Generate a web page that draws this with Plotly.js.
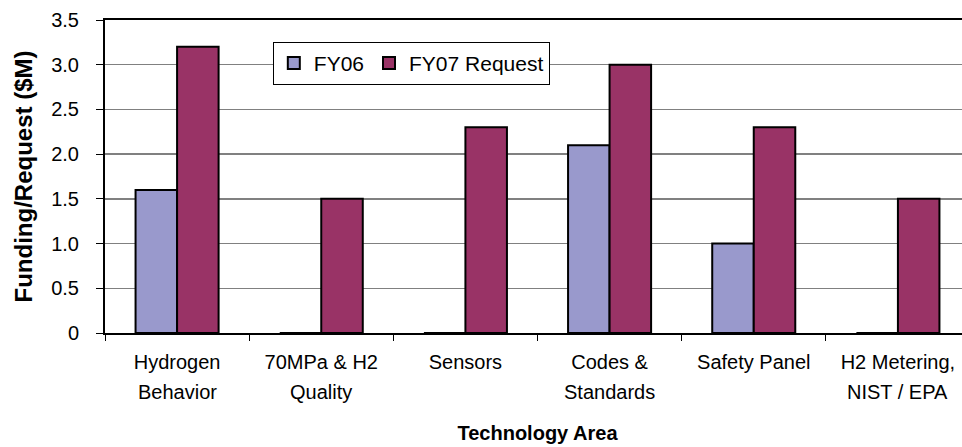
<!DOCTYPE html>
<html>
<head>
<meta charset="utf-8">
<script src="https://cdn.plot.ly/plotly-3.0.1.min.js"></script>
<style>
html,body{margin:0;padding:0;overflow:hidden;background:#fff;}
#chart{width:976px;height:447px;}
</style>
</head>
<body>
<div id="chart"></div>
<script>
var categories = ["Hydrogen Behavior", "70MPa & H2 Quality", "Sensors", "Codes & Standards", "Safety Panel", "H2 Metering, NIST / EPA"];
var labelLine1 = ["Hydrogen", "70MPa & H2", "Sensors", "Codes &", "Safety Panel", "H2 Metering,"];
var labelLine2 = ["Behavior", "Quality", "", "Standards", "", "NIST / EPA"];
var fy06 = [1.6, 0, 0, 2.1, 1.0, 0];
var fy07 = [3.2, 1.5, 2.3, 3.0, 2.3, 1.5];
var seriesNames = ["FY06", "FY07 Request"];
var yTickVals = [0, 0.5, 1.0, 1.5, 2.0, 2.5, 3.0, 3.5];
var yTickText = ["0", "0.5", "1.0", "1.5", "2.0", "2.5", "3.0", "3.5"];

var font = "Arial, 'Liberation Sans', Helvetica, sans-serif";

var traces = [
  {type: "bar", name: seriesNames[0], x: categories, y: fy06,
   marker: {color: "#9999CC", line: {color: "#000", width: 2}}},
  {type: "bar", name: seriesNames[1], x: categories, y: fy07,
   marker: {color: "#993366", line: {color: "#000", width: 2}}}
];

var annotations = [];
for (var i = 0; i < categories.length; i++) {
  if (labelLine2[i]) {
    annotations.push({x: categories[i], xref: "x", y: 0, yref: "paper",
      text: labelLine2[i], showarrow: false, xanchor: "center", yanchor: "middle",
      yshift: -59, font: {size: 20, family: font, color: "#000"}});
  }
}

var layout = {
  width: 976, height: 447,
  margin: {l: 105, r: 6, t: 20, b: 114},
  paper_bgcolor: "#fff", plot_bgcolor: "#fff",
  barmode: "group", bargap: 0.424, bargroupgap: 0,
  font: {family: font, color: "#000", size: 20},
  showlegend: true,
  legend: {orientation: "h", x: 0.194, y: 0.93, xanchor: "left", yanchor: "top",
           bgcolor: "#fff", bordercolor: "#000", borderwidth: 1,
           font: {size: 21, family: font}, itemclick: false},
  annotations: annotations,
  xaxis: {type: "category", showline: true, linecolor: "#000", linewidth: 2, mirror: true,
          tickvals: categories, ticktext: labelLine1,
          ticks: "outside", tickson: "boundaries", ticklen: 6, tickwidth: 1, tickcolor: "#000",
          ticklabelstandoff: 10,
          tickfont: {size: 20, family: font}, showgrid: false, zeroline: false,
          title: {text: "<b>Technology Area</b>", font: {size: 20, family: font}, standoff: 54},
          automargin: false},
  yaxis: {range: [0, 3.5], tickvals: yTickVals, ticktext: yTickText,
          showline: true, linecolor: "#000", linewidth: 2, mirror: true,
          ticks: "outside", ticklen: 7, tickwidth: 1, tickcolor: "#000",
          ticklabelstandoff: 13,
          tickfont: {size: 20, family: font},
          showgrid: true, gridcolor: "#808080", gridwidth: 1.5, zeroline: false,
          title: {text: "<b>Funding/Request ($M)</b>", font: {size: 24, family: font}, standoff: 12},
          automargin: false}
};

Plotly.newPlot("chart", traces, layout, {displayModeBar: false, staticPlot: true});
</script>
</body>
</html>
